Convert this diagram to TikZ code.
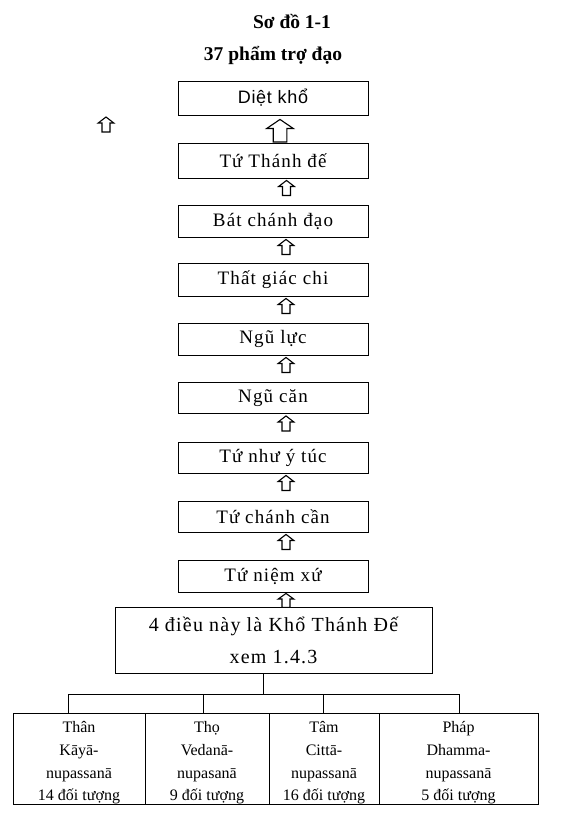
\documentclass[tikz,border=0pt]{standalone}
\usepackage{fontspec}
\setmainfont{Liberation Serif}
\newfontfamily\boxfont[LetterSpace=6]{Liberation Serif}
\newfontfamily\sansbox[LetterSpace=4]{Liberation Sans}
\usetikzlibrary{calc}
\begin{document}
\begin{tikzpicture}[x=1pt,y=-1pt,
  box/.style={draw, line width=0.9pt, minimum width=190pt, minimum height=32pt, inner sep=0pt,
    font=\boxfont\fontsize{19}{19}\selectfont},
  bigbox/.style={draw, line width=0.9pt, minimum width=317pt, minimum height=66pt, inner sep=0pt,
    align=center, font=\boxfont\fontsize{20}{32}\selectfont},
  leaf/.style={draw, line width=0.9pt, minimum height=90pt, inner sep=0pt, align=center,
    font=\fontsize{16}{22.7}\selectfont},
  titlefont/.style={font=\bfseries\fontsize{19.5}{19.5}\selectfont, inner sep=0pt, anchor=base},
  blk/.style={draw, line width=1.1pt, fill=white, line join=miter},
  link/.style={draw, line width=0.9pt},
  uparr/.pic={\path[blk] (0,0) -- (7.8,6) -- (4,6) -- (4,15) -- (-4,15) -- (-4,6) -- (-7.8,6) -- cycle;}
]
\useasboundingbox[fill=white] (0,0) rectangle (561,823);

% titles
\node[titlefont] (t1) at (292,28) {Sơ đồ 1-1};
\node[titlefont] (t2) at (273,60) {37 phẩm trợ đạo};

% chain of boxes
\node[box, minimum height=34pt, font=\sansbox\fontsize{18}{18}\selectfont] (b1) at (273,98) {Diệt khổ};
\node[box, minimum height=35pt] (b2) at (273,160.5) {Tứ Thánh đế};
\node[box] (b3) at (273,221) {Bát chánh đạo};
\node[box, minimum height=33pt] (b4) at (273,279.5) {Thất giác chi};
\node[box] (b5) at (273,339) {Ngũ lực};
\node[box, minimum height=31pt] (b6) at (273,398) {Ngũ căn};
\node[box, minimum height=31pt] (b7) at (273,457.5) {Tứ như ý túc};
\node[box, minimum height=31pt] (b8) at (273,516.5) {Tứ chánh cần};
\node[box] (b9) at (273,576) {Tứ niệm xứ};

\node[bigbox] (big) at (273.5,640) {4 điều này là Khổ Thánh Đế\\xem 1.4.3};

% bottom boxes
\node[leaf, minimum width=132pt] (l1) at (79,759) {\rule{0pt}{19pt}Thân\\Kāyā-\\nupassanā\\14 đối tượng};
\node[leaf, minimum width=124pt] (l2) at (207,759) {\rule{0pt}{19pt}Thọ\\Vedanā-\\nupasanā\\9 đối tượng};
\node[leaf, minimum width=110pt] (l3) at (324,759) {\rule{0pt}{19pt}Tâm\\Cittā-\\nupassanā\\16 đối tượng};
\node[leaf, minimum width=159pt] (l4) at (458.5,759) {\rule{0pt}{19pt}Pháp\\Dhamma-\\nupassanā\\5 đối tượng};

% block arrows between boxes
\pic[xscale=1.7, yscale=1.5] at ($(b1.south)+(7,4)$) {uparr};
\pic at ($(b2.south)+(13.5,2)$) {uparr};
\pic at ($(b3.south)+(13,2)$) {uparr};
\pic at ($(b4.south)+(13,2)$) {uparr};
\pic at ($(b5.south)+(13,2)$) {uparr};
\pic at ($(b6.south)+(13,2)$) {uparr};
\pic at ($(b7.south)+(13,2)$) {uparr};
\pic at ($(b8.south)+(13,2)$) {uparr};
\pic[yscale=0.93] at ($(b9.south)+(13,1)$) {uparr};

% stray arrow
\coordinate (s) at (106,117);
\pic at (s) {uparr};

% tree connectors
\coordinate (j) at (263,694);
\coordinate (d1) at (68,694);
\coordinate (d2) at (203,694);
\coordinate (d3) at (323,694);
\coordinate (d4) at (459,694);
\draw[link] (big.south -| j) -- (j);
\draw[link] (d1) -- (d4);
\draw[link] (d1) -- (d1 |- l1.north);
\draw[link] (d2) -- (d2 |- l2.north);
\draw[link] (d3) -- (d3 |- l3.north);
\draw[link] (d4) -- (d4 |- l4.north);
\end{tikzpicture}
\end{document}
